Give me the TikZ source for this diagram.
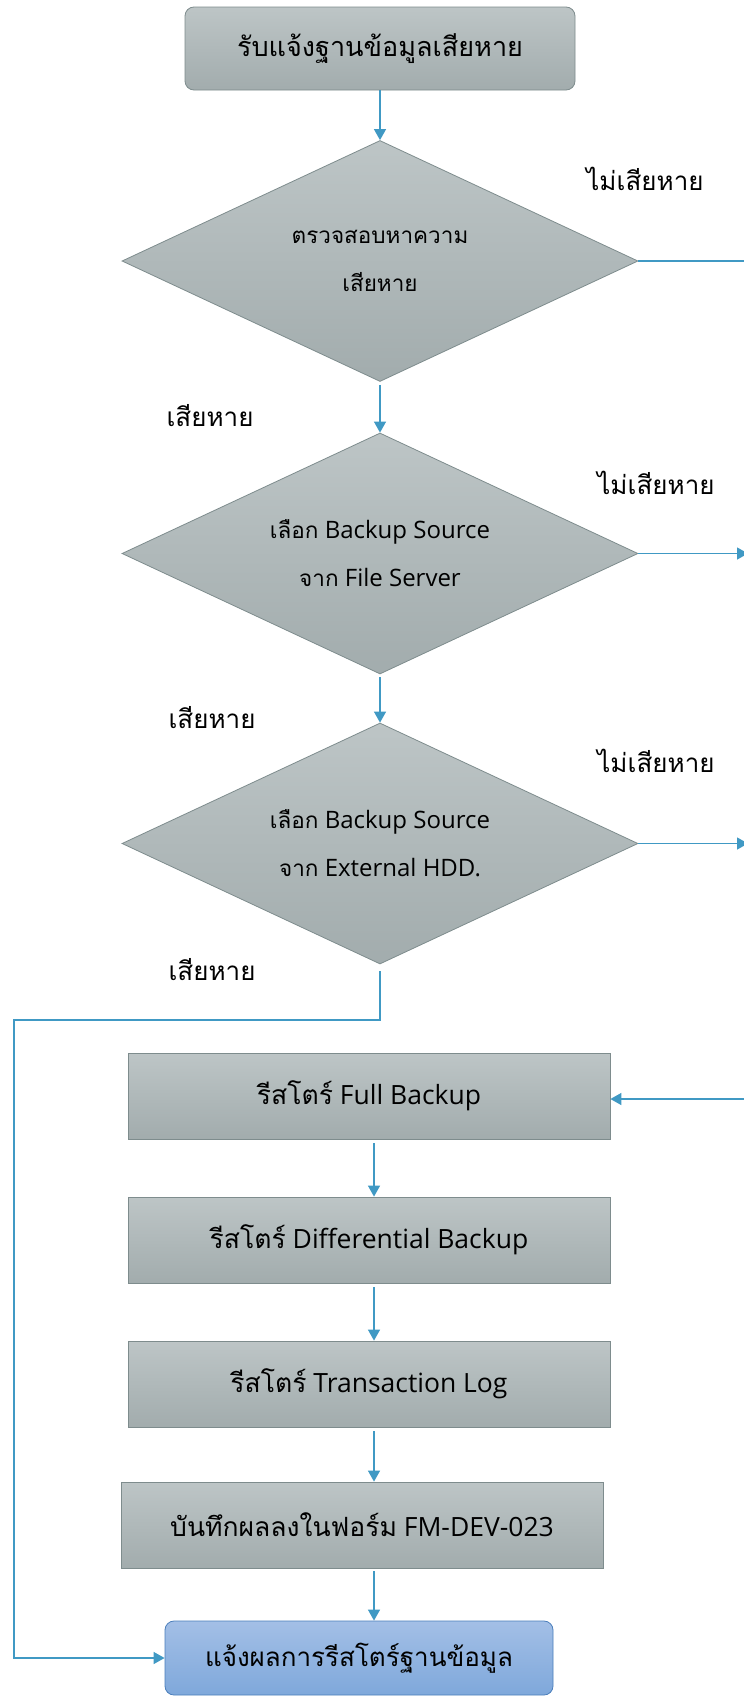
\documentclass[tikz,border=0pt]{standalone}
\usepackage{fontspec}
\setmainfont{Open Sans}
\newfontfamily\thf[Script=Thai]{Loma}
\newcommand{\thd}{\thf\fontsize{22.5}{48}\selectfont}
\usetikzlibrary{shapes.geometric,arrows.meta}
\definecolor{gtop}{RGB}{189,197,198}
\definecolor{gbot}{RGB}{162,172,173}
\definecolor{gedge}{RGB}{126,140,141}
\definecolor{btop}{RGB}{163,191,230}
\definecolor{bbot}{RGB}{127,168,219}
\definecolor{bedge}{RGB}{74,126,187}
\definecolor{conncol}{RGB}{64,153,196}
\begin{document}
\begin{tikzpicture}[x=1pt,y=-1pt,
  grayfill/.style={draw=gedge, line width=0.8pt, top color=gtop, bottom color=gbot},
  procbox/.style={grayfill, rectangle, minimum width=482pt, minimum height=86pt, inner sep=0pt, font=\fontsize{26.5}{30}\selectfont},
  decision/.style={grayfill, diamond, aspect=2.14, minimum width=516pt, minimum height=241pt, inner sep=0pt, align=center, font=\fontsize{24}{48}\selectfont},
  conn/.style={draw=conncol, line width=1.3pt},
  arr/.style={conn, -{Triangle[length=11pt,width=12pt]}},
  lbl/.style={font=\fontsize{26}{30}\selectfont\thf, inner sep=0pt}
]
\useasboundingbox (0,0) rectangle (744,1697);
\clip (0,0) rectangle (744,1697);
\fill[white] (0,0) rectangle (744,1697);

\node[grayfill, rectangle, rounded corners=9pt, minimum width=390pt, minimum height=83pt, inner sep=0pt, font=\fontsize{27}{30}\selectfont\thf] (top) at (380,48.5) {รับแจ้งฐานข้อมูลเสียหาย};

\node[decision] (d1) at (380,261) {\thd ตรวจสอบหาความ\\\thd เสียหาย};
\node[decision] (d2) at (380,553.5) {{\thd เลือก} Backup Source\\{\thd จาก} File Server};
\node[decision] (d3) at (380,843.5) {{\thd เลือก} Backup Source\\{\thd จาก} External HDD.};

\node[procbox] (b1) at (369,1096) {{\thf รีสโตร์} Full Backup};
\node[procbox] (b2) at (369,1240) {{\thf รีสโตร์} Differential Backup};
\node[procbox] (b3) at (369,1384) {{\thf รีสโตร์} Transaction Log};
\node[procbox] (b4) at (362,1525) {{\thf บันทึกผลลงในฟอร์ม} FM-DEV-023};

\node[draw=bedge, line width=0.8pt, top color=btop, bottom color=bbot, rounded corners=9pt, minimum width=388pt, minimum height=74pt, inner sep=0pt, font=\fontsize{26}{30}\selectfont\thf] (fin) at (359,1658) {แจ้งผลการรีสโตร์ฐานข้อมูล};

\node[lbl] (n1) at (645,179) {ไม่เสียหาย};
\node[lbl] (n2) at (656,483) {ไม่เสียหาย};
\node[lbl] (n3) at (656,761) {ไม่เสียหาย};
\node[lbl] (y1) at (210,416) {เสียหาย};
\node[lbl] (y2) at (212,718) {เสียหาย};
\node[lbl] (y3) at (212,970) {เสียหาย};

\coordinate (ax) at (374,0);
\coordinate (rx0) at (745,0);
\coordinate (rx) at (748,0);
\coordinate (fbin) at (750,1099);
\coordinate (ly) at (0,1020);
\coordinate (lx) at (14,0);

\draw[arr] (top.south) -- (d1.north);
\draw[arr, shorten <=3pt] (d1.south) -- (d2.north);
\draw[arr, shorten <=3pt] (d2.south) -- (d3.north);
\draw[conn] (d1.east) -- (d1.east -| rx0);
\draw[arr] (d2.east) -- (d2.east -| rx);
\draw[arr] (d3.east) -- (d3.east -| rx);
\draw[arr] (fbin) -- (b1.east |- fbin);
\draw[arr, shorten <=4pt] (b1.south -| ax) -- (b2.north -| ax);
\draw[arr, shorten <=4pt] (b2.south -| ax) -- (b3.north -| ax);
\draw[arr, shorten <=4pt] (b3.south -| ax) -- (b4.north -| ax);
\draw[arr, shorten <=3pt] (b4.south -| ax) -- (fin.north -| ax);
\draw[arr, shorten <=7pt] (d3.south) -- (d3.south |- ly) -- (lx |- ly) -- (lx |- fin.west) -- (fin.west);
\end{tikzpicture}
\end{document}
